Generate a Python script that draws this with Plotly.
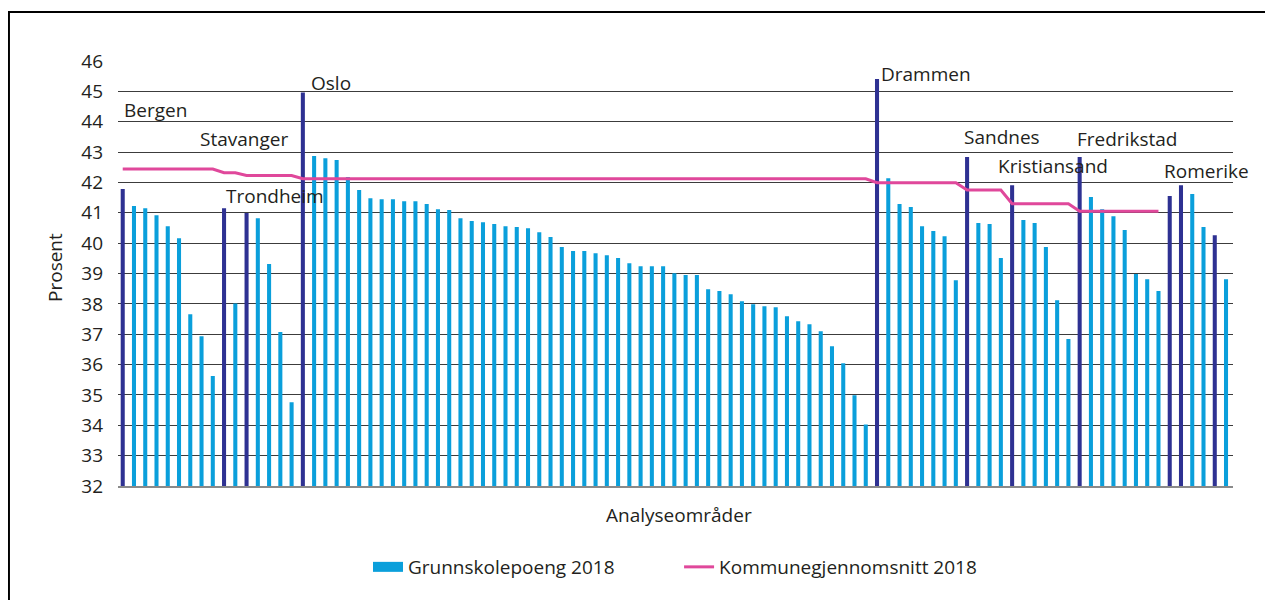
import plotly.graph_objects as go

# ---- data ----
scores = [
    41.78, 41.22, 41.15, 40.92, 40.56, 40.16, 37.66, 36.93, 35.62,   # Bergen
    41.15, 38.01,                                                    # Stavanger
    40.99, 40.82, 39.31, 37.07, 34.76,                               # Trondheim
    44.96, 42.87, 42.80, 42.74, 42.18, 41.75, 41.48, 41.45, 41.45,   # Oslo
    41.38, 41.38, 41.29, 41.12, 41.09, 40.82, 40.73, 40.69, 40.63,
    40.56, 40.53, 40.49, 40.36, 40.20, 39.87, 39.74, 39.74, 39.67,
    39.60, 39.51, 39.34, 39.24, 39.24, 39.24, 39.01, 38.95, 38.95,
    38.48, 38.42, 38.32, 38.09, 37.99, 37.92, 37.89, 37.59, 37.43,
    37.33, 37.10, 36.60, 36.04, 34.99, 34.03,
    45.41, 42.14, 41.29, 41.19, 40.56, 40.40, 40.23, 38.78,          # Drammen
    42.84, 40.66, 40.63, 39.51,                                      # Sandnes
    41.91, 40.76, 40.66, 39.87, 38.12, 36.84,                        # Kristiansand
    42.84, 41.52, 41.12, 40.89, 40.43, 38.98, 38.81, 38.42,          # Fredrikstad
    41.55, 41.91, 41.62, 40.53, 40.26, 38.81,                        # Romerike
]

# municipal average per analysis area (None = no value)
kommune_avg = (
    [42.44] * 9 + [42.32] * 2 + [42.23] * 5 + [42.12] * 51
    + [41.99] * 8 + [41.75] * 4 + [41.30] * 6 + [41.05] * 8
    + [None] * 6
)

# bars drawn in dark colour (city centres)
highlight = [0, 9, 11, 16, 67, 75, 79, 85, 93, 94, 97]

city_labels = ["Bergen", "Stavanger", "Trondheim", "Oslo", "Drammen",
               "Sandnes", "Kristiansand", "Fredrikstad", "Romerike"]

series_names = ["Grunnskolepoeng 2018", "Kommunegjennomsnitt 2018"]

# ---- styling / layout ----
LIGHT = "#0a9fdb"
DARK = "#2e3192"
PINK = "#e0489b"
TEXT = "#231f20"
FONT = "Open Sans"
FS = 19

idx = list(range(len(scores)))
light_x = [i for i in idx if i not in highlight]
light_y = [scores[i] for i in light_x]
dark_x = [i for i in idx if i in highlight]
dark_y = [scores[i] for i in dark_x]

fig = go.Figure()
fig.add_trace(go.Bar(
    x=light_x, y=light_y, marker=dict(color=LIGHT, line=dict(width=0)),
    name=series_names[0], showlegend=False,
))
fig.add_trace(go.Bar(
    x=dark_x, y=dark_y, marker=dict(color=DARK, line=dict(width=0)),
    name=series_names[0], showlegend=False,
))
# legend key for the bars (wide flat swatch, as in the original)
fig.add_trace(go.Scatter(
    x=[None], y=[None], mode="lines", line=dict(color=LIGHT, width=10),
    name=series_names[0], legend="legend",
))
fig.add_trace(go.Scatter(
    x=idx, y=kommune_avg, mode="lines", connectgaps=False,
    line=dict(color=PINK, width=3),
    name=series_names[1], legend="legend2",
))

# label positions (data coordinates)
label_pos = [(-0.09, 44.39), (6.68, 43.43), (8.99, 41.55), (16.54, 45.29),
             (67.16, 45.56), (74.51, 43.49), (77.56, 42.54), (84.57, 43.43),
             (92.27, 42.39)]
annotations = []
for name, (lx, ly) in zip(city_labels, label_pos):
    annotations.append(dict(
        x=lx, y=ly, xref="x", yref="y", text=name, showarrow=False,
        xanchor="left", yanchor="middle",
        font=dict(family=FONT, size=FS, color=TEXT),
    ))
annotations.append(dict(
    x=0.503, y=-0.068, xref="paper", yref="paper", text="Analyseområder",
    showarrow=False, xanchor="center", yanchor="middle",
    font=dict(family=FONT, size=FS, color=TEXT),
))
annotations.append(dict(
    x=-0.0565, y=0.513, xref="paper", yref="paper", text="Prosent",
    showarrow=False, xanchor="center", yanchor="middle", textangle=-90,
    font=dict(family=FONT, size=FS, color=TEXT),
))

legend_common = dict(
    orientation="h", yanchor="middle", xanchor="left",
    font=dict(family=FONT, size=FS, color=TEXT),
    bgcolor="rgba(0,0,0,0)",
)

fig.update_layout(
    width=1265, height=592,
    margin=dict(l=110, r=40, t=53, b=114),
    paper_bgcolor="white", plot_bgcolor="white",
    barmode="overlay",
    bargap=0.64,
    font=dict(family=FONT, size=FS, color=TEXT),
    showlegend=True,
    legend=dict(x=0.2242, y=-0.1906, **legend_common),
    legend2=dict(x=0.5032, y=-0.1906, **legend_common),
    annotations=annotations,
    shapes=[dict(
        type="rect", xref="paper", yref="paper",
        x0=-0.0978, x1=1.5, y0=-1.0, y1=1.1153,
        line=dict(color="black", width=2), fillcolor="rgba(0,0,0,0)",
        layer="below",
    )],
    xaxis=dict(
        range=[-0.42, 98.62], showticklabels=False, showgrid=False,
        zeroline=False, showline=True, linecolor="#8a8a8a", linewidth=2,
        ticks="",
    ),
    yaxis=dict(
        range=[32, 46], dtick=1, tick0=32, showgrid=True,
        gridcolor="#3c3c3c", gridwidth=1, zeroline=False, showline=False,
        ticks="", ticklabelstandoff=14,
        tickfont=dict(family=FONT, size=FS, color=TEXT),
    ),
)

fig.write_html("out.html")
